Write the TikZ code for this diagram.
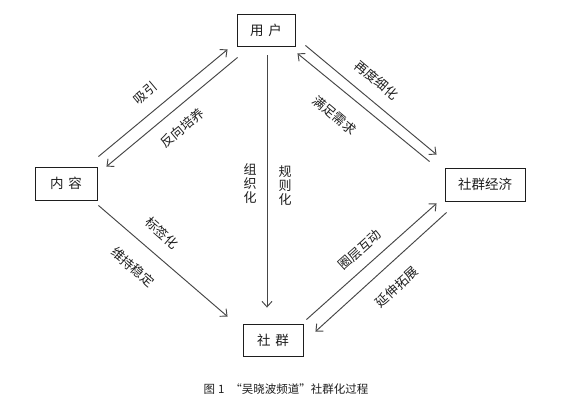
\documentclass[tikz,border=0pt]{standalone}
\usepackage{fontspec}
\newfontfamily\cjk{Noto Sans CJK SC}
\usetikzlibrary{arrows.meta,calc}
\definecolor{linegray}{RGB}{70,70,70}
\definecolor{textgray}{RGB}{30,30,30}
\tikzset{
  boxnode/.style={draw=textgray, fill=white, line width=0.9pt, inner sep=0pt,
    font=\cjk\fontsize{13.5}{14}\selectfont, text=textgray},
  flow/.style={draw=linegray, line width=0.95pt, -{Straight Barb[length=5.5pt,width=10pt]}},
  lbl/.style={font=\cjk\fontsize{13}{14}\selectfont, text=textgray, inner sep=0pt},
}

\begin{document}
\begin{tikzpicture}[x=1pt,y=-1pt]
    \useasboundingbox (0,0) rectangle (583,402);
    % the four stages
    \node[boxnode, minimum width=58pt, minimum height=32pt] (user) at (266,30) {用\hspace{5pt}户};
    \node[boxnode, minimum width=62pt, minimum height=33pt] (content) at (66,183.5) {内\hspace{5pt}容};
    \node[boxnode, minimum width=80pt, minimum height=33pt] (econ) at (485,184.5) {社群经济};
    \node[boxnode, minimum width=60pt, minimum height=32pt] (group) at (273,340) {社\hspace{5pt}群};
    % content <-> user
    \draw[flow] ($(content.north east)+(1,-10)$) -- ($(user.south west)+(-9,3)$);
    \draw[flow] ($(user.south west)+(1,11)$) -- ($(content.north east)+(9,0)$);
    \node[lbl, rotate=40] (attract) at (145,93) {吸引};
    \node[lbl, rotate=40] (feedback) at (182,128) {反向培养};
    % user <-> economy
    \draw[flow] ($(user.south east)+(10,-1)$) -- ($(econ.north west)+(-8,-13)$);
    \draw[flow] ($(econ.north west)+(-15,-6)$) -- ($(user.south east)+(2,7)$);
    \node[lbl, rotate=-40] (refine) at (377,80) {再度细化};
    \node[lbl, rotate=-40] (satisfy) at (335,115) {满足需求};
    % user -> group
    \draw[flow] ($(user.south)+(1,9)$) -- ($(group.north)+(-6,-16)$);
    \node[lbl, align=center] (organize) at (250,184) {组\\织\\化};
    \node[lbl, align=center] (regulate) at (285,186) {规\\则\\化};
    % content -> group
    \draw[flow] ($(content.south east)+(1,5)$) -- ($(group.north west)+(-15,-7)$);
    \node[lbl, rotate=-41] (tagging) at (162,233) {标签化};
    \node[lbl, rotate=-41] (stable) at (133,267) {维持稳定};
    % group <-> economy
    \draw[flow] ($(group.north east)+(3,-4)$) -- ($(econ.south west)+(-8,2)$);
    \draw[flow] ($(econ.south west)+(2,11)$) -- ($(group.north east)+(12,8)$);
    \node[lbl, rotate=42] (interact) at (360,250) {圈层互动};
    \node[lbl, rotate=42] (extend) at (397,287) {延伸拓展};
    % caption
    \node[font=\cjk\fontsize{11.5}{13}\selectfont, text=textgray] (caption) at (286,389)
         {图\hspace{3pt}1\hspace{6pt}“吴晓波频道”社群化过程};
  \end{tikzpicture}
\end{document}
